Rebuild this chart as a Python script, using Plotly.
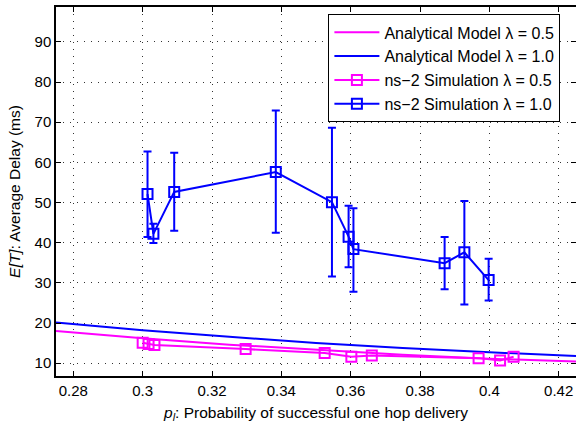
import plotly.graph_objects as go

# Analytical model curves
ana_x = [0.275, 0.30, 0.325, 0.35, 0.375, 0.40, 0.425]
ana_05 = [18.0, 16.2, 14.6, 13.3, 12.1, 11.1, 10.4]
ana_10 = [20.1, 18.2, 16.6, 15.0, 13.8, 12.7, 11.8]

# ns-2 simulation lambda = 0.5
sim05_x = [0.3000, 0.3017, 0.3034, 0.3297, 0.3525, 0.3602, 0.3661, 0.3969, 0.4031, 0.4070]
sim05_y = [15.1, 14.8, 14.55, 13.5, 12.5, 11.6, 11.9, 11.25, 10.65, 11.6]

# ns-2 simulation lambda = 1.0 with error bars
sim10_x = [0.3014, 0.3031, 0.3091, 0.3384, 0.3546, 0.3594, 0.3608, 0.3871, 0.3928, 0.3998]
sim10_y = [52.1, 42.2, 52.65, 57.6, 50.1, 41.5, 38.4, 34.9, 37.6, 30.7]
sim10_hi = [62.7, 44.7, 62.4, 72.9, 68.6, 49.2, 48.6, 41.4, 50.4, 36.0]
sim10_lo = [41.4, 39.9, 43.0, 42.5, 31.6, 33.9, 27.8, 28.4, 24.6, 25.6]

x_tickvals = [0.28, 0.30, 0.32, 0.34, 0.36, 0.38, 0.40, 0.42]
x_ticktext = ["0.28", "0.3", "0.32", "0.34", "0.36", "0.38", "0.4", "0.42"]
y_tickvals = [10, 20, 30, 40, 50, 60, 70, 80, 90]

err_plus = [h - y for h, y in zip(sim10_hi, sim10_y)]
err_minus = [y - l for l, y in zip(sim10_lo, sim10_y)]

MAG = "#FF00FF"
BLU = "#0000FF"

fig = go.Figure()
fig.add_trace(go.Scatter(x=ana_x, y=ana_05, mode="lines", line=dict(color=MAG, width=2),
                         name="Analytical Model λ = 0.5"))
fig.add_trace(go.Scatter(x=ana_x, y=ana_10, mode="lines", line=dict(color=BLU, width=2),
                         name="Analytical Model λ = 1.0"))
fig.add_trace(go.Scatter(x=sim05_x, y=sim05_y, mode="lines+markers",
                         line=dict(color=MAG, width=2),
                         marker=dict(symbol="square-open", size=10, color=MAG, line=dict(width=2)),
                         name="ns−2 Simulation λ = 0.5"))
fig.add_trace(go.Scatter(x=sim10_x, y=sim10_y, mode="lines+markers",
                         line=dict(color=BLU, width=2),
                         marker=dict(symbol="square-open", size=10, color=BLU, line=dict(width=2)),
                         error_y=dict(type="data", symmetric=False, array=err_plus,
                                      arrayminus=err_minus, color=BLU, thickness=2, width=4),
                         name="ns−2 Simulation λ = 1.0"))

axis_common = dict(showline=True, linecolor="black", linewidth=1.5, mirror="ticks",
                   ticks="inside", ticklen=5, tickcolor="black", automargin=False,
                   showgrid=True, gridcolor="rgba(0,0,0,0.8)", griddash="1px,6px", gridwidth=1,
                   zeroline=False, tickfont=dict(size=15, color="black"))

fig.update_layout(
    width=576, height=424,
    margin=dict(l=56, r=0, t=7, b=48),
    paper_bgcolor="white", plot_bgcolor="white",
    font=dict(family="Liberation Sans, Arial, sans-serif", color="black"),
    xaxis=dict(range=[0.275, 0.425], tickvals=x_tickvals, ticktext=x_ticktext,
               title=dict(text="<i>p<sub>l</sub></i>: Probability of successful one hop delivery",
                          font=dict(size=15.5), standoff=9),
               **axis_common),
    yaxis=dict(range=[6.8, 98.7], tickvals=y_tickvals,
               title=dict(text="<i>E[T]</i>: Average Delay (ms)", font=dict(size=15.5), standoff=10),
               **axis_common),
    legend=dict(x=0.97, y=0.98, xanchor="right", yanchor="top",
                bgcolor="white", bordercolor="black", borderwidth=1,
                font=dict(size=16), itemwidth=45, tracegroupgap=0),
    showlegend=True,
)

fig.write_html("out.html", post_script="document.body.style.margin='0';",
               config={"displayModeBar": False})
